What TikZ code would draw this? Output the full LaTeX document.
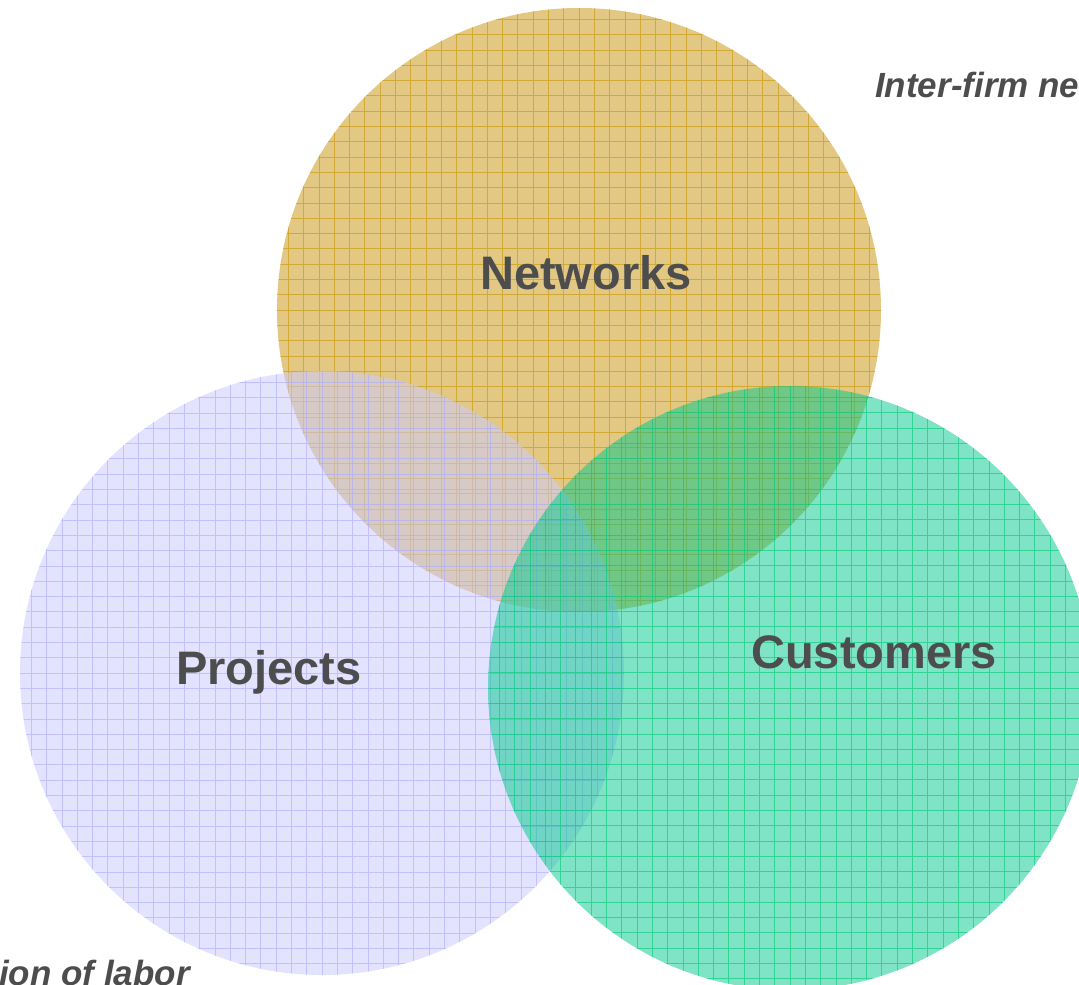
\documentclass[tikz,border=0pt]{standalone}
\usepackage{fontspec}
\setmainfont{Liberation Sans}
\definecolor{netfill}{RGB}{205,160,40}
\definecolor{netline}{RGB}{200,150,0}
\definecolor{projfill}{RGB}{204,204,255}
\definecolor{projline}{RGB}{170,170,255}
\definecolor{custfill}{RGB}{0,200,140}
\definecolor{custline}{RGB}{0,200,120}
\definecolor{textgray}{RGB}{77,77,77}

\begin{document}
\begin{tikzpicture}
      [
        x=1pt, y=1pt,
        gridded/.style={path picture={\draw[#1, draw opacity=0.6, line width=0.8pt, step=15.3pt]
          (path picture bounding box.south west) grid (path picture bounding box.north east);}},
        roundn/.style={circle, fill=netfill, fill opacity=0.58, minimum size=604pt, inner sep=0pt, gridded=netline},
        roundp/.style={circle, fill=projfill, fill opacity=0.55, minimum size=604pt, inner sep=0pt, gridded=projline},
        roundc/.style={circle, fill=custfill, fill opacity=0.5, minimum size=604pt, inner sep=0pt, gridded=custline},
        bigtext/.style={text=textgray, font=\fontsize{47}{56}\selectfont\bfseries, anchor=base, inner sep=0pt},
        sidetext/.style={text=textgray, font=\fontsize{35}{42}\selectfont\bfseries\itshape, inner sep=0pt}
      ]
      \useasboundingbox (0,-985) rectangle (1079,0);
      \clip (0,-985) rectangle (1079,0);
      \node[roundn] (networks) at (579,-310) {};
      \node[roundp] (projects) at (322,-673) {};
      \node[roundc] (customers) at (790,-688) {};
      \node[bigtext] (networkstext) at (586,-289) {Networks};
      \node[bigtext] (projectstext) at (269,-684) {Projects};
      \node[bigtext] (customerstext) at (874,-668) {Customers};
      \node[sidetext, anchor=base west] (interfirm) at (875,-97) {Inter-firm networks};
      \node[sidetext, anchor=base east] (division) at (190,-985) {Division of labor};
    \end{tikzpicture}
\end{document}
